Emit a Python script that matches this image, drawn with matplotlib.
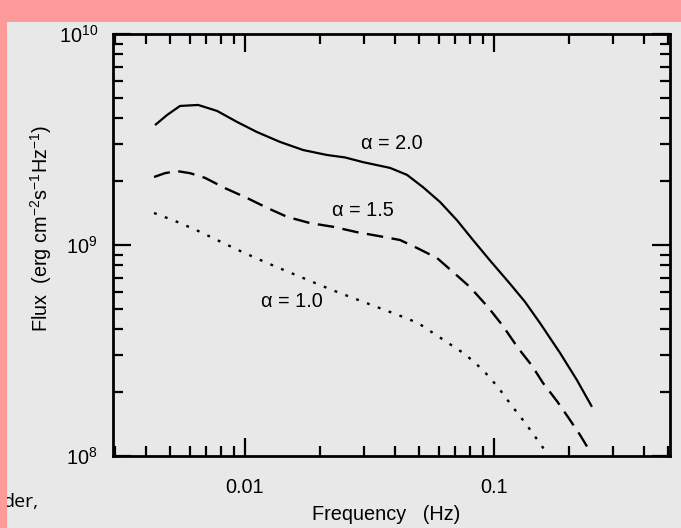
import numpy as np
import matplotlib.pyplot as plt
from matplotlib.patches import Rectangle
from matplotlib.ticker import LogLocator, NullFormatter

plt.rcParams['font.family'] = ['Liberation Sans', 'DejaVu Sans']
plt.rcParams['mathtext.fontset'] = 'custom'
plt.rcParams['mathtext.rm'] = 'Liberation Sans'
plt.rcParams['mathtext.it'] = 'Liberation Sans'
plt.rcParams['mathtext.default'] = 'regular'

# alpha = 2.0 (solid)
f_20 = [0.00435, 0.00486, 0.00548, 0.00648, 0.00772, 0.00929, 0.01117, 0.01382, 0.0171,
        0.02135, 0.02521, 0.02978, 0.03822, 0.04473, 0.05186, 0.06069, 0.07103, 0.08236,
        0.09636, 0.116, 0.1332, 0.153, 0.1842, 0.2154, 0.2475]
flux_20 = [3.70e9, 4.13e9, 4.56e9, 4.61e9, 4.32e9, 3.83e9, 3.43e9, 3.08e9, 2.82e9,
           2.67e9, 2.60e9, 2.47e9, 2.32e9, 2.15e9, 1.88e9, 1.60e9, 1.31e9, 1.056e9,
           8.45e8, 6.55e8, 5.38e8, 4.27e8, 3.08e8, 2.29e8, 1.71e8]

# alpha = 1.5 (dashed)
f_15 = [0.00431, 0.00477, 0.00533, 0.00601, 0.00691, 0.00831, 0.01019, 0.01226, 0.01475,
        0.01824, 0.02256, 0.02818, 0.03484, 0.04193, 0.04908, 0.05903, 0.06844, 0.0801,
        0.09461, 0.1087, 0.1249, 0.1421, 0.1573, 0.1791, 0.1983, 0.2215, 0.2453]
flux_15 = [2.10e9, 2.19e9, 2.24e9, 2.19e9, 2.08e9, 1.86e9, 1.67e9, 1.50e9, 1.36e9,
           1.27e9, 1.22e9, 1.15e9, 1.10e9, 1.056e9, 9.68e8, 8.68e8, 7.45e8, 6.32e8,
           5.08e8, 4.13e8, 3.25e8, 2.68e8, 2.22e8, 1.82e8, 1.53e8, 1.26e8, 1.033e8]

# alpha = 1.0 (dotted)
f_10 = [0.00431, 0.00524, 0.00636, 0.00772, 0.00937, 0.01128, 0.01369, 0.02236, 0.02715,
        0.03389, 0.04116, 0.04952, 0.07646, 0.09033, 0.1038, 0.1181, 0.1345, 0.1516, 0.1618]
flux_10 = [1.418e9, 1.299e9, 1.178e9, 1.056e9, 9.47e8, 8.58e8, 7.78e8, 6.12e8, 5.61e8,
           5.08e8, 4.66e8, 4.27e8, 3.04e8, 2.556e8, 2.12e8, 1.726e8, 1.418e8, 1.165e8, 1.045e8]

labels = ['\u03b1 = 2.0', '\u03b1 = 1.5', '\u03b1 = 1.0']
label_f = [0.0389, 0.0298, 0.0154]
label_flux = [3.04e9, 1.465e9, 5.37e8]

fs = 14.3
bg = '#e8e8e8'
fig = plt.figure(figsize=(6.81, 5.28), dpi=100, facecolor=bg)
ax = fig.add_axes([0.166, 0.1364, 0.818, 0.7992])
ax.set_facecolor(bg)

ax.plot(f_20, flux_20, color='black', lw=1.6, solid_capstyle='butt', solid_joinstyle='round')
ax.plot(f_15, flux_15, color='black', lw=1.7, dashes=(7, 3.6))
ax.plot(f_10, flux_10, color='black', lw=1.7, dashes=(1.2, 3.7))

for lab, x, y in zip(labels, label_f, label_flux):
    ax.text(x, y, lab, fontsize=fs, ha='center', va='center')

ax.set_xscale('log')
ax.set_yscale('log')
ax.set_xlim(0.00295, 0.51)
ax.set_ylim(1e8, 1e10)
ax.set_xticks([0.01, 0.1])
ax.set_xticklabels(['0.01', '0.1'])
ax.xaxis.set_minor_locator(LogLocator(base=10, subs=np.arange(2, 10), numticks=20))
ax.yaxis.set_minor_locator(LogLocator(base=10, subs=np.arange(2, 10), numticks=20))
ax.xaxis.set_minor_formatter(NullFormatter())
ax.yaxis.set_minor_formatter(NullFormatter())

ax.tick_params(which='both', direction='in', top=True, right=True, width=1.6,
               labelsize=fs, colors='black')
ax.tick_params(which='major', length=13)
ax.tick_params(which='minor', length=7)
ax.tick_params(axis='x', which='major', pad=16)
ax.tick_params(axis='y', which='major', pad=11)
for s in ax.spines.values():
    s.set_linewidth(2.0)

ax.set_xlabel('Frequency   (Hz)', fontsize=fs)
ax.set_ylabel('Flux  (erg cm$^{-2}$s$^{-1}$Hz$^{-1}$)', fontsize=fs)
ax.xaxis.set_label_coords(0.49, -0.116)
ax.yaxis.set_label_coords(-0.106, 0.54)

# stray text from the page and the pink frame
fig.text(0.004, 1 - 507 / 528, 'der,', fontsize=14, family='Open Sans',
         va='baseline', zorder=1)
fig.patches.append(Rectangle((0, 1 - 22 / 528), 1, 22 / 528, transform=fig.transFigure,
                             facecolor='#fd9a9a', edgecolor='none', zorder=10))
fig.patches.append(Rectangle((0, 0), 7 / 681, 1, transform=fig.transFigure,
                             facecolor='#fd9a9a', edgecolor='none', zorder=10))

fig.savefig('out.png', dpi=100, facecolor=bg)
